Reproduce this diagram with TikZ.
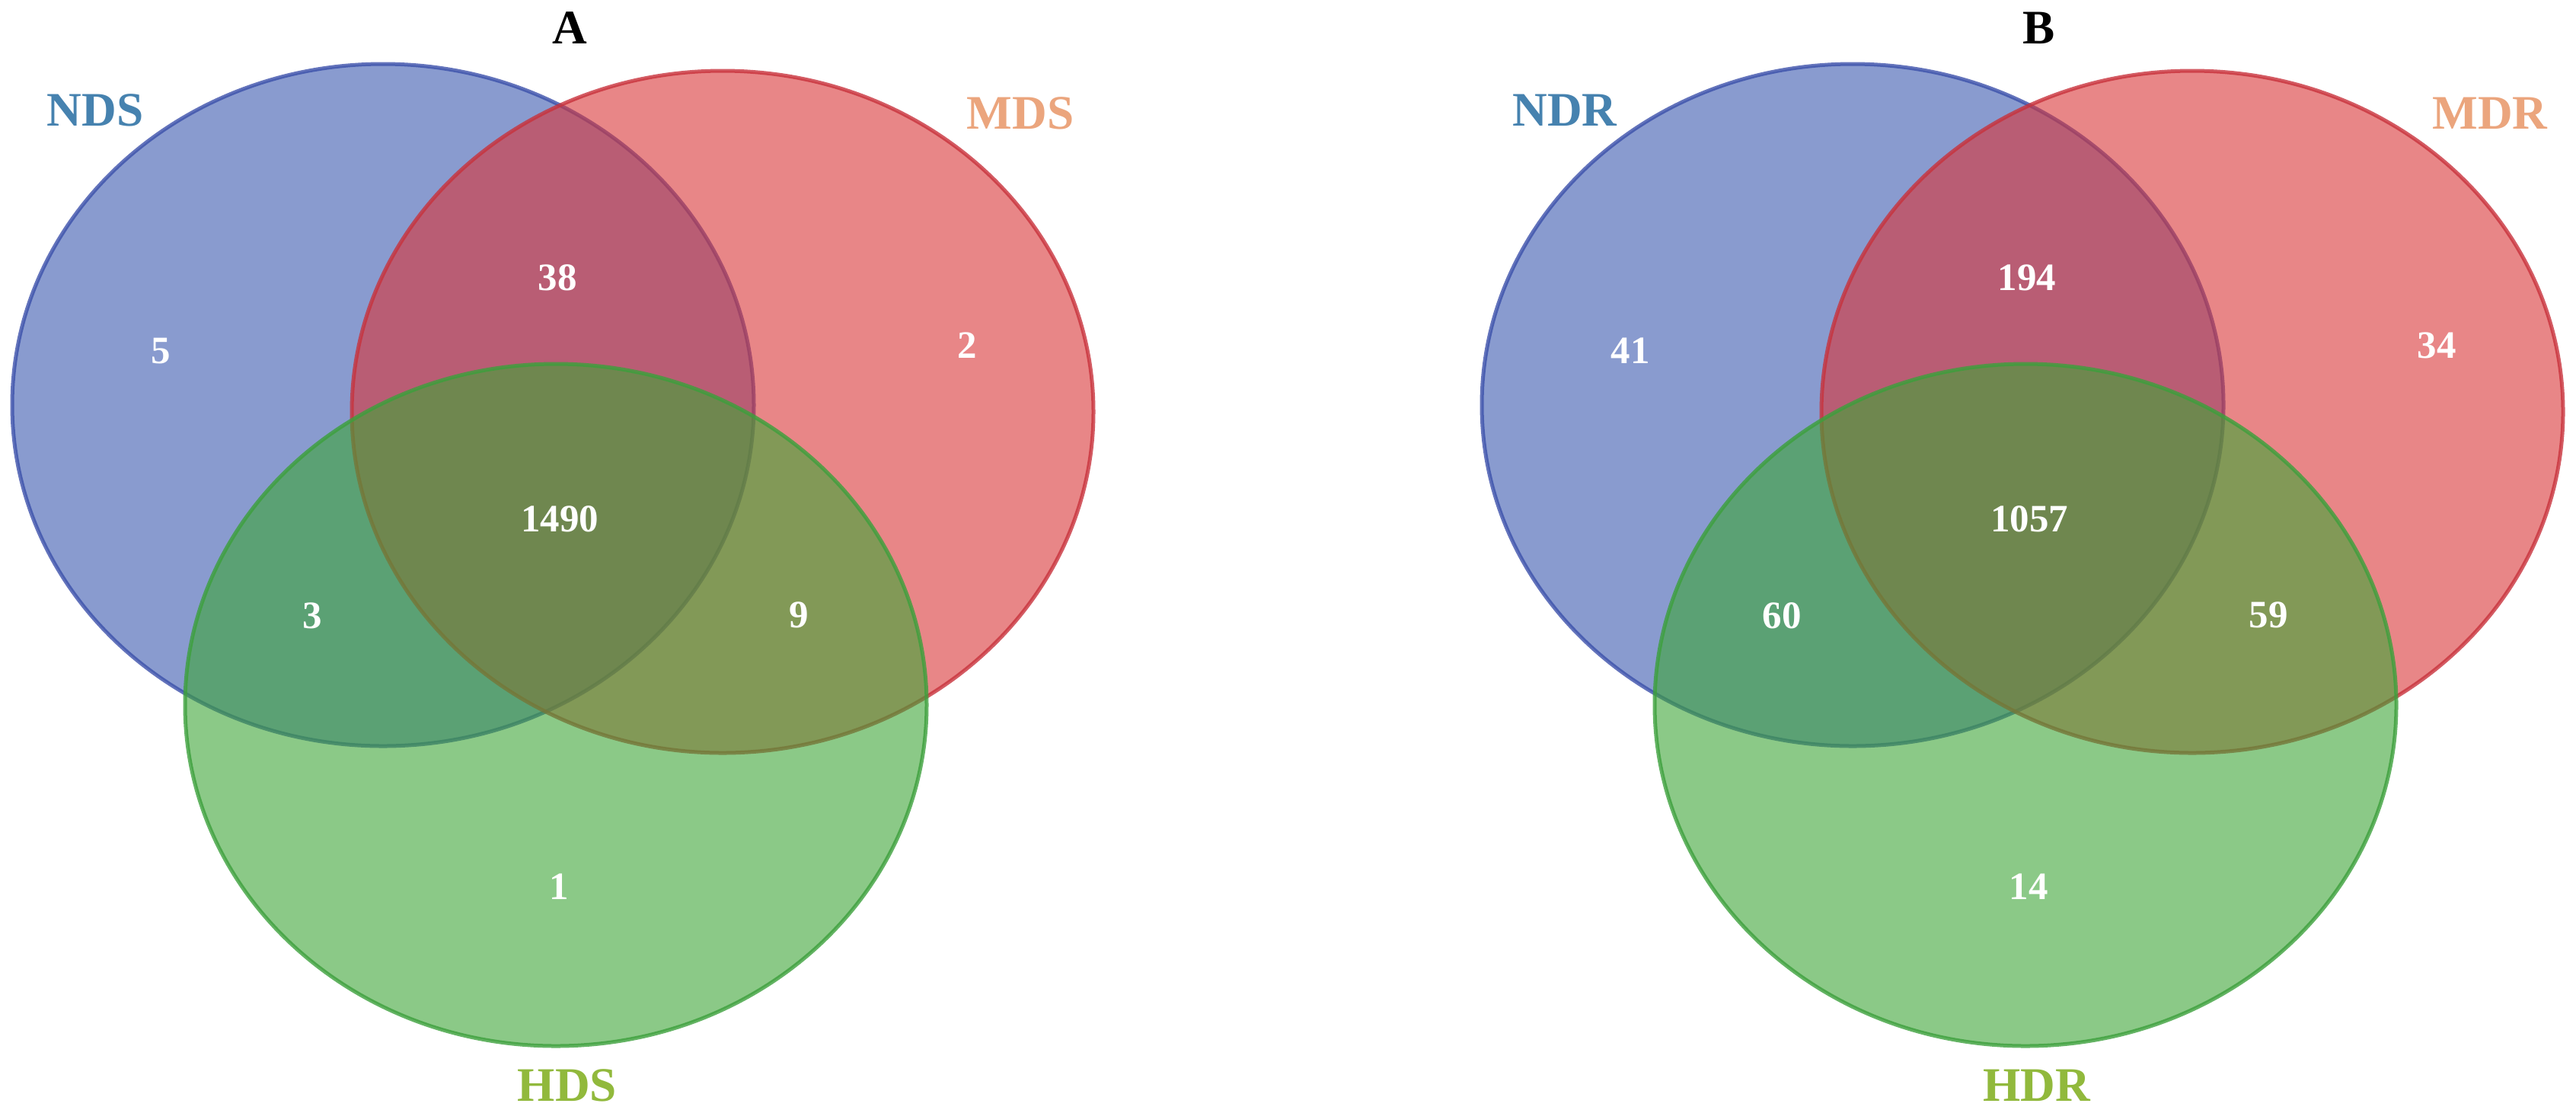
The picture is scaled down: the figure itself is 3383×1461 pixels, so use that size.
\documentclass[tikz,border=0pt]{standalone}
\usepackage{fontspec}
\setmainfont{Liberation Serif}

\definecolor{nfill}{RGB}{58,88,175}
\definecolor{mfill}{RGB}{217,53,55}
\definecolor{hfill}{RGB}{62,165,55}
\definecolor{nline}{RGB}{60,80,170}
\definecolor{mline}{RGB}{200,50,60}
\definecolor{hline}{RGB}{60,160,60}
\definecolor{ntext}{RGB}{70,130,175}
\definecolor{mtext}{RGB}{235,165,125}
\definecolor{htext}{RGB}{145,185,60}

\begin{document}
\begin{tikzpicture}[x=0.1mm,y=-0.1mm]
        \tikzstyle{venn}=[fill opacity=.6, draw opacity=.8, line width=.5mm]
        \tikzstyle{ttl}=[font=\fontsize{18}{20}\selectfont\bfseries]
        \tikzstyle{setlbl}=[font=\fontsize{18}{20}\selectfont\bfseries]
        \tikzstyle{count}=[text=white, font=\fontsize{14.5}{16}\selectfont\bfseries]
        \useasboundingbox (0,0) rectangle (3383,1461);
        \foreach \p/\xs/\sn/\sm/\sh/\cn/\cnm/\cm/\cnh/\call/\cmh/\ch in
          {A/0/NDS/MDS/HDS/5/38/2/3/1490/9/1,
           B/1930/NDR/MDR/HDR/41/194/34/60/1057/59/14}
          {
            \begin{scope}[shift={(\xs,0)}]
              % the three sets
              \filldraw[venn, fill=nfill, draw=nline] (503,532) ellipse [x radius=487, y radius=448];
              \filldraw[venn, fill=mfill, draw=mline] (949,541) ellipse [x radius=487, y radius=448];
              \filldraw[venn, fill=hfill, draw=hline] (730,926) ellipse [x radius=487, y radius=448];
              \node [ttl] (title\p) at (748,37) {\p};
              \node [setlbl, text=ntext] (lblN\p) at (125,145) {\sn};
              \node [setlbl, text=mtext] (lblM\p) at (1340,149) {\sm};
              \node [setlbl, text=htext] (lblH\p) at (745,1426) {\sh};
              % counts
              \node [count] (cN\p) at (211,461) {\cn};
              \node [count] (cNM\p) at (732,365) {\cnm};
              \node [count] (cM\p) at (1270,454) {\cm};
              \node [count] (cNH\p) at (410,809) {\cnh};
              \node [count] (cAll\p) at (735,682) {\call};
              \node [count] (cMH\p) at (1049,808) {\cmh};
              \node [count] (cH\p) at (734,1165) {\ch};
            \end{scope}
          }
      \end{tikzpicture}
\end{document}
